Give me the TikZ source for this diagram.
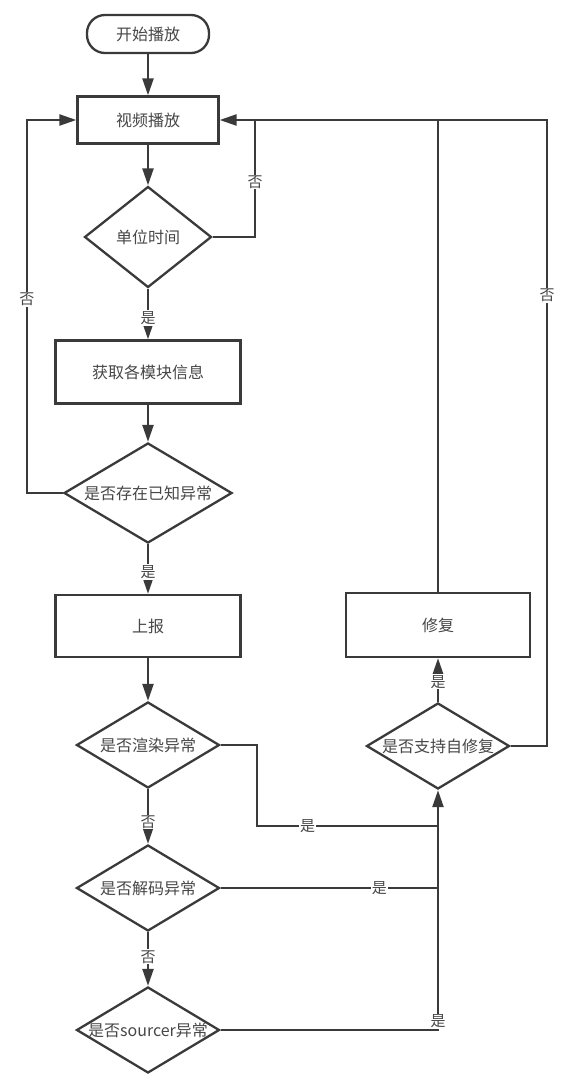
\documentclass[tikz,border=0pt]{standalone}
\usepackage{fontspec}
\setmainfont{Noto Sans CJK SC}
\usetikzlibrary{shapes.geometric,arrows.meta}
\definecolor{linegray}{HTML}{3A3A3A}
\definecolor{textgray}{HTML}{474747}

\tikzset{every picture/.style={line width=2.3pt}}
\tikzset{
  flowbox/.style={draw=linegray, fill=white, text=textgray, font=\fontsize{16}{19}\selectfont, minimum width=185pt, minimum height=63pt, inner sep=0pt},
  startbox/.style={flowbox, rounded corners=18pt, minimum width=122pt, minimum height=38pt},
  decision/.style={diamond, draw=linegray, fill=white, text=textgray, font=\fontsize{16}{19}\selectfont, inner sep=0pt, inner xsep=-12pt, aspect=1.65, minimum width=143pt, minimum height=86pt},
  arr/.style={draw=linegray, -{Triangle[length=17pt,width=11pt]}},
  link/.style={draw=linegray},
  lbl/.style={fill=white, text=textgray, font=\fontsize{15}{18}\selectfont, inner sep=1pt},
}

\begin{document}
\begin{tikzpicture}[x=1pt, y=-1pt]
    \useasboundingbox (0,0) rectangle (584,1092);
    \node[startbox] (start) at (148,34) {开始播放};
    \node[flowbox, minimum width=141pt, minimum height=47pt] (play) at (148,120) {视频播放};
    \node[decision, minimum width=127pt, minimum height=101pt] (unit) at (148,237) {单位时间};
    \node[flowbox] (fetch) at (148,372) {获取各模块信息};
    \node[decision, minimum width=168pt, minimum height=100pt] (known) at (148,493) {是否存在已知异常};
    \node[flowbox, minimum height=62pt] (report) at (148,626) {上报};
    \node[decision] (render) at (148,745) {是否渲染异常};
    \node[decision] (decode) at (148,888) {是否解码异常};
    \node[decision] (source) at (148,1030) {是否sourcer异常};
    \node[decision] (selffix) at (438,746) {是否支持自修复};
    \node[flowbox, minimum width=184pt, minimum height=64pt] (repair) at (438,625) {修复};

    \coordinate (ltop) at (27,120);
    \coordinate (utop) at (255,120);
    \coordinate (ftop) at (438,120);
    \coordinate (rtop) at (547,120);
    \coordinate (rbend) at (257,826);
    \coordinate (rjoin) at (438,826);
    \coordinate (djoin) at (438,888);
    \coordinate (sjoin) at (438,1030);

    \draw[arr] (start) -- (play);
    \draw[arr] (play) -- (unit);
    \draw[arr] (unit) -- node[lbl, pos=0.58] {是} (fetch);
    \draw[arr] (fetch) -- (known);
    \draw[arr] (known) -- node[lbl, pos=0.56] {是} (report);
    \draw[arr] (report) -- (render);
    \draw[arr] (render) -- node[lbl, pos=0.6] {否} (decode);
    \draw[arr] (decode) -- node[lbl, pos=0.46] {否} (source);
    \draw[arr] (selffix) -- node[lbl, pos=0.46] {是} (repair);

    \draw[arr] (known.west) -| node[lbl, pos=0.76] {否} (ltop) -- (play.west);
    \draw[arr] (selffix.east) -| node[lbl, pos=0.86] {否} (rtop) -- (play.east);
    \draw[link] (unit.east) -| node[lbl, pos=0.735] {否} (utop);
    \draw[link] (repair.north) -- (ftop);

    \draw[link] (render.east) -| (rbend) -- node[lbl, pos=0.28] {是} (rjoin);
    \draw[link] (decode.east) -- node[lbl, pos=0.73] {是} (djoin);
    \draw[arr] (source.east) -- (sjoin) node[lbl, above=0pt] {是} -- (selffix.south);
\end{tikzpicture}
\end{document}
